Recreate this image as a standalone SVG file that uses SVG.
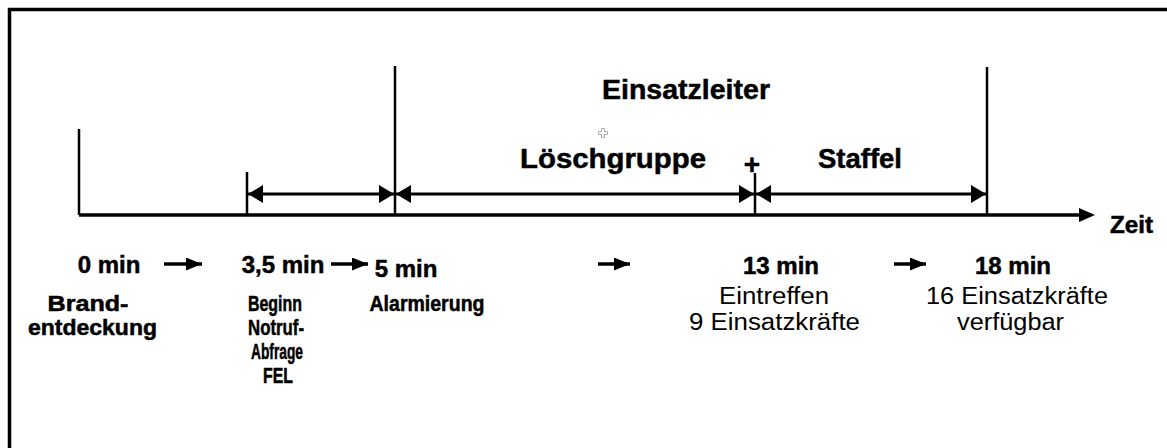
<svg xmlns="http://www.w3.org/2000/svg" width="1167" height="448" viewBox="0 0 1167 448">
  <style>
    .frame { stroke: #000; stroke-width: 3.5; fill: none; }
    .tick { stroke: #000; stroke-width: 2.5; fill: none; }
    .axis { stroke: #000; stroke-width: 3.5; fill: none; }
    .dim { stroke: #000; stroke-width: 3; fill: none; marker-start: url(#headStart); marker-end: url(#headEnd); }
    .step { stroke: #000; stroke-width: 3.5; fill: none; marker-end: url(#stepHead); }
    text { font-family: "Liberation Sans", Arial, sans-serif; fill: #000; }
    .heavy { stroke: #000; stroke-width: 0.5; }
    .hdr { font-size: 28px; font-weight: bold; }
    .time { font-size: 24px; font-weight: bold; text-anchor: middle; }
    .lbl { font-size: 21.5px; font-weight: bold; text-anchor: middle; }
    .lblr { font-size: 23px; text-anchor: middle; }
  </style>
  <defs>
    <marker id="headEnd" markerUnits="userSpaceOnUse" markerWidth="16" markerHeight="20" refX="15" refY="9" orient="auto">
      <polygon points="0,0 15,9 0,18" fill="#000"/>
    </marker>
    <marker id="headStart" markerUnits="userSpaceOnUse" markerWidth="16" markerHeight="20" refX="0" refY="9" orient="auto">
      <polygon points="15,0 0,9 15,18" fill="#000"/>
    </marker>
    <marker id="stepHead" markerUnits="userSpaceOnUse" markerWidth="18" markerHeight="14" refX="16" refY="6.5" orient="auto">
      <polygon points="0,0 16,6.5 0,13" fill="#000"/>
    </marker>
  </defs>

  <rect width="1167" height="448" fill="#fff"/>

  <!-- open frame: left and top edges -->
  <path class="frame" d="M9.5,448 V9.5 H1167"/>

  <g id="connectors">
    <!-- time axis -->
    <line class="axis" x1="79" y1="215" x2="1080" y2="215"/>
    <polygon points="1079,208 1095,215 1079,222" fill="#000"/>
    <!-- interval dimension arrows -->
    <line class="dim" x1="248" y1="194" x2="394" y2="194"/>
    <line class="dim" x1="396" y1="194" x2="754" y2="194"/>
    <line class="dim" x1="756" y1="194" x2="986" y2="194"/>
    <!-- step arrows between time marks -->
    <line class="step" x1="164" y1="264" x2="202" y2="264"/>
    <line class="step" x1="331" y1="264" x2="368" y2="264"/>
    <line class="step" x1="598" y1="264" x2="630" y2="264"/>
    <line class="step" x1="894" y1="264" x2="926" y2="264"/>
  </g>

  <g id="mark-0">
    <line class="tick" x1="79" y1="129" x2="79" y2="215"/>
    <text class="time heavy" x="109" y="273">0 min</text>
    <text class="lbl heavy" x="88" y="311" textLength="81" lengthAdjust="spacingAndGlyphs">Brand-</text>
    <text class="lbl heavy" x="92.5" y="335" textLength="129" lengthAdjust="spacingAndGlyphs">entdeckung</text>
  </g>

  <g id="mark-3-5">
    <line class="tick" x1="247" y1="172" x2="247" y2="215"/>
    <text class="time heavy" x="283" y="273">3,5 min</text>
    <text class="lbl heavy" x="275" y="311" textLength="54" lengthAdjust="spacingAndGlyphs">Beginn</text>
    <text class="lbl heavy" x="276" y="335" textLength="56" lengthAdjust="spacingAndGlyphs">Notruf-</text>
    <text class="lbl heavy" x="277" y="359" textLength="52" lengthAdjust="spacingAndGlyphs">Abfrage</text>
    <text class="lbl heavy" x="278" y="383" textLength="30" lengthAdjust="spacingAndGlyphs">FEL</text>
  </g>

  <g id="mark-5">
    <line class="tick" x1="395" y1="66" x2="395" y2="215"/>
    <text class="time heavy" x="406" y="277">5 min</text>
    <text class="lbl heavy" x="427" y="311" textLength="115" lengthAdjust="spacingAndGlyphs">Alarmierung</text>
  </g>

  <g id="mark-13">
    <line class="tick" x1="755" y1="173" x2="755" y2="215"/>
    <text class="heavy" x="752" y="174" style="font-size:28px;font-weight:bold;text-anchor:middle">+</text>
    <text class="time heavy" x="781" y="274">13 min</text>
    <text class="lblr" x="774" y="304" textLength="110" lengthAdjust="spacingAndGlyphs">Eintreffen</text>
    <text class="lblr" x="774.5" y="330" textLength="171" lengthAdjust="spacingAndGlyphs">9 Einsatzkräfte</text>
  </g>

  <g id="mark-18">
    <line class="tick" x1="987" y1="67" x2="987" y2="215"/>
    <text class="time heavy" x="1013" y="274">18 min</text>
    <text class="lblr" x="1017" y="304" textLength="182" lengthAdjust="spacingAndGlyphs">16 Einsatzkräfte</text>
    <text class="lblr" x="1010.5" y="330" textLength="107" lengthAdjust="spacingAndGlyphs">verfügbar</text>
  </g>

  <g id="labels">
    <text class="hdr heavy" x="602" y="99" textLength="168" lengthAdjust="spacingAndGlyphs">Einsatzleiter</text>
    <text class="hdr heavy" x="520" y="168" textLength="186" lengthAdjust="spacingAndGlyphs">Löschgruppe</text>
    <text class="hdr heavy" x="818" y="168" textLength="84" lengthAdjust="spacingAndGlyphs">Staffel</text>
    <text class="heavy" x="1110" y="233" style="font-size:23px;font-weight:bold" textLength="43" lengthAdjust="spacingAndGlyphs">Zeit</text>
    <!-- small grey insertion cross -->
    <path d="M601.5,128.5 h3 v3 h3 v3 h-3 v3 h-3 v-3 h-3 v-3 h3 z" fill="none" stroke="#aaa" stroke-width="1"/>
  </g>
</svg>
